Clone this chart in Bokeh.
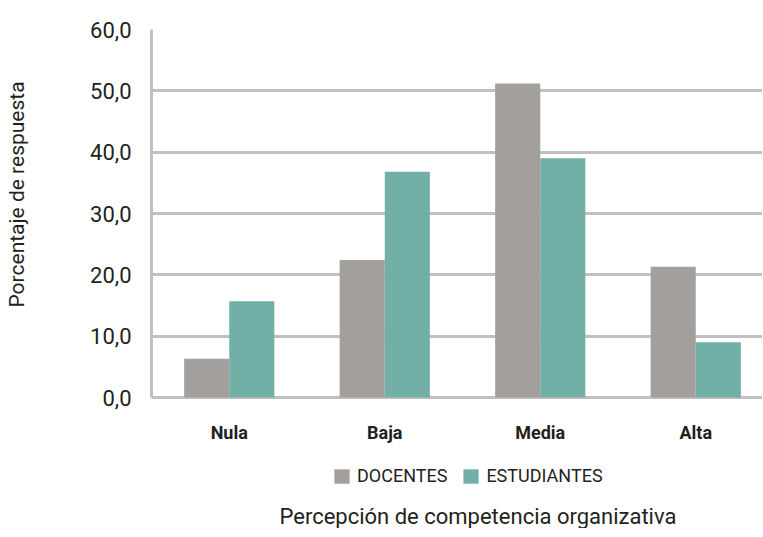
from bokeh.plotting import figure
from bokeh.models import ColumnDataSource, Range1d, FixedTicker, Legend, LegendItem, Title
from bokeh.core.properties import value
from bokeh.transform import dodge
from bokeh.embed import file_html
from bokeh.resources import INLINE

categories = ["Nula", "Baja", "Media", "Alta"]
docentes = [6.3, 22.4, 51.2, 21.3]
estudiantes = [15.7, 36.8, 39.0, 9.0]
y_ticks = [0, 10, 20, 30, 40, 50, 60]
y_tick_labels = ["0,0", "10,0", "20,0", "30,0", "40,0", "50,0", "60,0"]
series_names = ["DOCENTES", "ESTUDIANTES"]
x_title = "Percepción de competencia organizativa"
y_title = "Porcentaje de respuesta"

FONT = "Roboto"
GRID = "#c2c0bf"
C_DOC = "#a39f9c"
C_EST = "#72afa6"
TXT = "#231f20"

# layout constants (pixels)
FRAME_W = 611
PX_PER_CAT = 155.5
Y_MAX = 60
PX_PER_UNIT = 368 / Y_MAX
Y_MIN = -104 / PX_PER_UNIT

src = ColumnDataSource(dict(x=list(range(len(categories))), cat=categories,
                            base=[0] * len(categories), doc=docentes, est=estudiantes))

p = figure(output_backend="svg", toolbar_location=None,
           frame_width=FRAME_W, frame_height=472,
           min_border_left=149, min_border_right=0, min_border_top=29, min_border_bottom=0,
           x_range=Range1d(-0.5, -0.5 + FRAME_W / PX_PER_CAT), y_range=Range1d(Y_MIN, Y_MAX))
p.outline_line_color = None
p.background_fill_color = "white"

p.xgrid.grid_line_color = None
p.ygrid.ticker = FixedTicker(ticks=y_ticks)
p.ygrid.grid_line_color = GRID
p.ygrid.grid_line_width = 3

r1 = p.vbar(x=dodge("x", -0.145), top="doc", width=0.29, source=src, fill_color=C_DOC, line_color=None)
r2 = p.vbar(x=dodge("x", 0.145), top="est", width=0.29, source=src, fill_color=C_EST, line_color=None)

# category labels under the baseline
p.text(x="x", y="base", text="cat", source=src, text_align="center", text_baseline="middle",
       y_offset=35, text_font=value(FONT), text_font_size="18px", text_font_style="bold",
       text_color=TXT)

# y axis
p.yaxis.bounds = (0, Y_MAX)
p.yaxis.ticker = FixedTicker(ticks=y_ticks)
p.yaxis.major_label_overrides = {t: l for t, l in zip(y_ticks, y_tick_labels)}
p.yaxis.major_tick_line_color = None
p.yaxis.minor_tick_line_color = None
p.yaxis.axis_line_color = GRID
p.yaxis.axis_line_width = 3
p.yaxis.major_label_text_font = FONT
p.yaxis.major_label_text_font_size = "22px"
p.yaxis.major_label_text_color = TXT
p.yaxis.major_label_standoff = 14
# blank axis label used only as spacing before the y title
p.yaxis.axis_label = " "
p.yaxis.axis_label_text_font = FONT
p.yaxis.axis_label_text_font_size = "21px"
p.yaxis.axis_label_standoff = 30

p.xaxis.visible = False

p.add_layout(Title(text=y_title, align="left", offset=194, standoff=4,
                   text_font=FONT, text_font_size="21px", text_font_style="normal",
                   text_color=TXT), "left")

legend = Legend(items=[LegendItem(label=series_names[0], renderers=[r1]),
                       LegendItem(label=series_names[1], renderers=[r2])],
                orientation="horizontal", location=(181, 15),
                label_text_font=FONT, label_text_font_size="18px", label_text_color=TXT,
                glyph_width=19, glyph_height=18, spacing=14, label_standoff=6,
                border_line_color=None, background_fill_alpha=0, padding=2, margin=0)
p.add_layout(legend, "center")

p.add_layout(Title(text=x_title, align="left", offset=128, standoff=0,
                   text_font=FONT, text_font_size="22px", text_font_style="normal",
                   text_color=TXT), "below")

open("out.html", "w").write(file_html(p, INLINE))
